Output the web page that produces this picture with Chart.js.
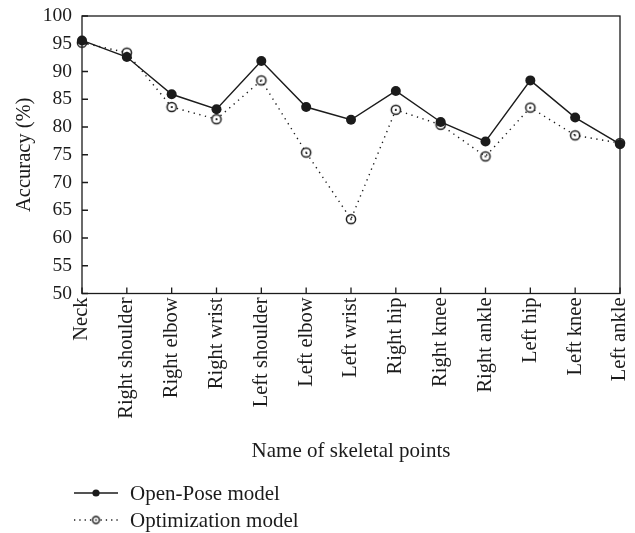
<!DOCTYPE html>
<html>
<head>
<meta charset="utf-8">
<script src="https://cdn.jsdelivr.net/npm/chart.js@4/dist/chart.umd.min.js"></script>
<style>
  html, body { margin: 0; padding: 0; background: #fff; }
  #wrap { width: 635px; height: 533px; }
</style>
</head>
<body>
<div id="wrap"><canvas id="accChart" width="635" height="533"></canvas></div>
<script>
// === data ===
const skeletalPoints = ['Neck', 'Right shoulder', 'Right elbow', 'Right wrist', 'Left shoulder',
    'Left elbow', 'Left wrist', 'Right hip', 'Right knee', 'Right ankle', 'Left hip', 'Left knee', 'Left ankle'];
const openPoseAcc = [95.6, 92.6, 85.9, 83.2, 91.9, 83.6, 81.3, 86.5, 80.9, 77.4, 88.4, 81.7, 76.9];
const optimizationAcc = [95.2, 93.4, 83.6, 81.4, 88.4, 75.4, 63.4, 83.1, 80.4, 74.7, 83.5, 78.5, 77.1];
const seriesNames = ['Open-Pose model', 'Optimization model'];

const INK = '#1b1b1b';
const FONT = 'Liberation Serif, Times New Roman, serif';

// open circle with a small dot in the middle
function ringMarker(r) {
    const c = document.createElement('canvas');
    const s = Math.ceil(r * 2 + 4);
    c.width = s; c.height = s;
    const g = c.getContext('2d');
    g.strokeStyle = INK;
    g.lineWidth = 1.5;
    g.beginPath(); g.arc(s / 2, s / 2, r, 0, Math.PI * 2); g.stroke();
    g.fillStyle = INK;
    g.beginPath(); g.arc(s / 2, s / 2, 0.9, 0, Math.PI * 2); g.fill();
    return c;
}
const ringBig = ringMarker(4.6);
const ringSmall = ringMarker(3.4);

// inner ticks, box frame and the legend under the axis
const framePlugin = {
    id: 'frame',
    afterDatasetsDraw(chart) {
        const { ctx, chartArea: a, scales: { x, y } } = chart;
        ctx.save();
        ctx.strokeStyle = INK;
        ctx.lineWidth = 1.3;
        ctx.strokeRect(a.left, a.top, a.right - a.left, a.bottom - a.top);
        ctx.beginPath();
        x.ticks.forEach((t, i) => {
            const px = x.getPixelForTick(i);
            ctx.moveTo(px, a.bottom); ctx.lineTo(px, a.bottom - 6);
        });
        y.ticks.forEach((t, i) => {
            const py = y.getPixelForTick(i);
            ctx.moveTo(a.left, py); ctx.lineTo(a.left + 6, py);
        });
        ctx.stroke();

        // legend
        const rows = [493, 520];
        ctx.font = '21px ' + FONT;
        ctx.textBaseline = 'middle';
        ctx.fillStyle = INK;
        rows.forEach((ry, i) => {
            ctx.beginPath();
            ctx.lineWidth = 1.3;
            ctx.setLineDash(i === 0 ? [] : [1.3, 4]);
            ctx.moveTo(74, ry); ctx.lineTo(118, ry);
            ctx.stroke();
            ctx.setLineDash([]);
            if (i === 0) {
                ctx.beginPath(); ctx.arc(96, ry, 3.6, 0, Math.PI * 2); ctx.fill();
            } else {
                ctx.fillStyle = '#fff';
                ctx.fillRect(96 - 4, ry - 4, 8, 8);
                ctx.fillStyle = INK;
                ctx.drawImage(ringSmall, 96 - ringSmall.width / 2, ry - ringSmall.height / 2);
            }
            ctx.fillText(seriesNames[i], 130, ry + 1);
        });
        ctx.restore();
    }
};

const ctx = document.getElementById('accChart').getContext('2d');
new Chart(ctx, {
    type: 'line',
    data: {
        labels: skeletalPoints,
        datasets: [
            {
                label: seriesNames[0], data: openPoseAcc, order: 0,
                borderColor: INK, borderWidth: 1.4, backgroundColor: INK,
                pointRadius: 5, pointBackgroundColor: INK, pointBorderColor: INK, pointBorderWidth: 0,
                tension: 0, clip: false
            },
            {
                label: seriesNames[1], data: optimizationAcc, order: 1,
                borderColor: INK, borderWidth: 1.4, borderDash: [1.3, 4.5],
                pointStyle: ringBig, pointRadius: 5,
                tension: 0, clip: false
            }
        ]
    },
    options: {
        responsive: false,
        animation: false,
        devicePixelRatio: 1,
        layout: { padding: { left: 0, right: 15, top: 16, bottom: 60 } },
        plugins: { legend: { display: false }, tooltip: { enabled: false } },
        scales: {
            x: {
                offset: false,
                grid: { display: false, drawTicks: false },
                border: { display: false },
                ticks: {
                    color: INK, font: { family: FONT, size: 20.5 },
                    minRotation: 90, maxRotation: 90, padding: 4, autoSkip: false
                },
                title: {
                    display: true, text: 'Name of skeletal points', color: INK,
                    font: { family: FONT, size: 21 }, padding: { top: 4, bottom: 9 }
                },
                afterFit(scale) {
                    scale.height = 533 - 293.5 - 60;
                    scale.paddingLeft = 0; scale.paddingRight = 0;
                }
            },
            y: {
                min: 50, max: 100,
                grid: { display: false, drawTicks: false },
                border: { display: false },
                ticks: { stepSize: 5, color: INK, font: { family: FONT, size: 19.5 }, padding: 10 },
                title: {
                    display: true, text: 'Accuracy (%)', color: INK,
                    font: { family: FONT, size: 20.5 }, padding: { top: 12, bottom: 0 }
                },
                afterFit(scale) {
                    scale.width = 82;
                    scale.paddingTop = 0; scale.paddingBottom = 0;
                }
            }
        }
    },
    plugins: [framePlugin]
});
</script>
</body>
</html>
